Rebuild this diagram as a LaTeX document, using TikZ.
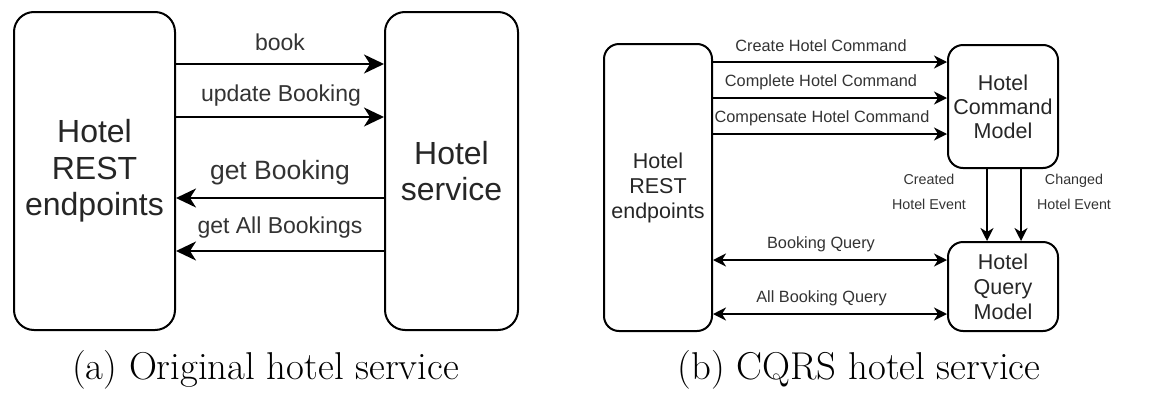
\documentclass[tikz,border=0pt]{standalone}
\usepackage{fontspec}
\newfontfamily\dsans{Liberation Sans}
\usetikzlibrary{arrows.meta}
\tikzset{
  box/.style={draw=black, line width=2pt, rounded corners=20pt, align=center, inner sep=0pt, text=black!85},
  sbox/.style={box, rounded corners=15pt},
  arrA/.style={line width=2.2pt, -{Stealth[length=20pt,width=19pt,inset=6pt]}},
  arrB/.style={line width=1.8pt, -{Stealth[length=13pt,width=13pt,inset=4pt]}},
  arrBB/.style={line width=1.8pt, {Stealth[length=13pt,width=13pt,inset=4pt]}-{Stealth[length=13pt,width=13pt,inset=4pt]}},
  lblA/.style={text=black!80, inner sep=0pt, font=\dsans\fontsize{23}{27}\selectfont},
  lblB/.style={text=black!80, inner sep=0pt, font=\dsans\fontsize{16.3}{19}\selectfont},
  lblC/.style={text=black!80, inner sep=0pt, align=center, font=\dsans\fontsize{14.3}{25}\selectfont},
  captext/.style={inner sep=0pt, font=\fontsize{38.8}{44}\selectfont},
}
\begin{document}
\begin{tikzpicture}[x=1pt,y=-1pt]
\useasboundingbox (0,0) rectangle (1149,402);
% ---- (a)
\node[box, minimum width=161pt, minimum height=318pt, font=\dsans\fontsize{32}{36.5}\selectfont] (rest) at (94.5,171) {Hotel\\REST\\endpoints};
\node[box, minimum width=133pt, minimum height=318pt, font=\dsans\fontsize{32}{36.5}\selectfont] (svc) at (451.5,171) {Hotel\\service};
\draw[arrA] (rest.east |- 0,64) -- (svc.west |- 0,64);
\draw[arrA] (rest.east |- 0,117) -- (svc.west |- 0,117);
\draw[arrA] (svc.west |- 0,198) -- (rest.east |- 0,198);
\draw[arrA] (svc.west |- 0,251) -- (rest.east |- 0,251);
\node[lblA] (l1) at (280,42) {book};
\node[lblA] (l2) at (281,96) {update Booking};
\node[lblA, font=\dsans\fontsize{26.5}{30}\selectfont] (l3) at (280,173) {get Booking};
\node[lblA] (l4) at (280,228) {get All Bookings};
% ---- (b)
\node[sbox, minimum width=108pt, minimum height=287pt, font=\dsans\fontsize{21.5}{25}\selectfont] (rest2) at (658,187.5) {Hotel\\REST\\endpoints};
\node[sbox, minimum width=110pt, minimum height=123pt, font=\dsans\fontsize{21.5}{24}\selectfont] (cmd) at (1003,106.5) {Hotel\\Command\\Model};
\node[sbox, minimum width=110pt, minimum height=89pt, font=\dsans\fontsize{21.5}{25}\selectfont] (qry) at (1003,286.5) {Hotel\\Query\\Model};
\draw[arrB] (rest2.east |- 0,62) -- (cmd.west |- 0,62);
\draw[arrB] (rest2.east |- 0,98) -- (cmd.west |- 0,98);
\draw[arrB] (rest2.east |- 0,134) -- (cmd.west |- 0,134);
\draw[arrB] (cmd.south -| 987,0) -- (qry.north -| 987,0);
\draw[arrB] (cmd.south -| 1021,0) -- (qry.north -| 1021,0);
\draw[arrBB] (rest2.east |- 0,260) -- (qry.west |- 0,260);
\draw[arrBB] (rest2.east |- 0,314) -- (qry.west |- 0,314);
\node[lblB] (m1) at (821,46) {Create Hotel Command};
\node[lblB] (m2) at (821,82) {Complete Hotel Command};
\node[lblB] (m3) at (822,118) {Compensate Hotel Command};
\node[lblB] (m4) at (821,244) {Booking Query};
\node[lblB] (m5) at (821.5,298) {All Booking Query};
\node[lblC] (e1) at (929,191.5) {Created\\Hotel Event};
\node[lblC] (e2) at (1074,191.5) {Changed\\Hotel Event};
% captions
\node[captext] (ca) at (265.5,370) {(a) Original hotel service};
\node[captext] (cb) at (859,370) {(b) CQRS hotel service};
\end{tikzpicture}
\end{document}
